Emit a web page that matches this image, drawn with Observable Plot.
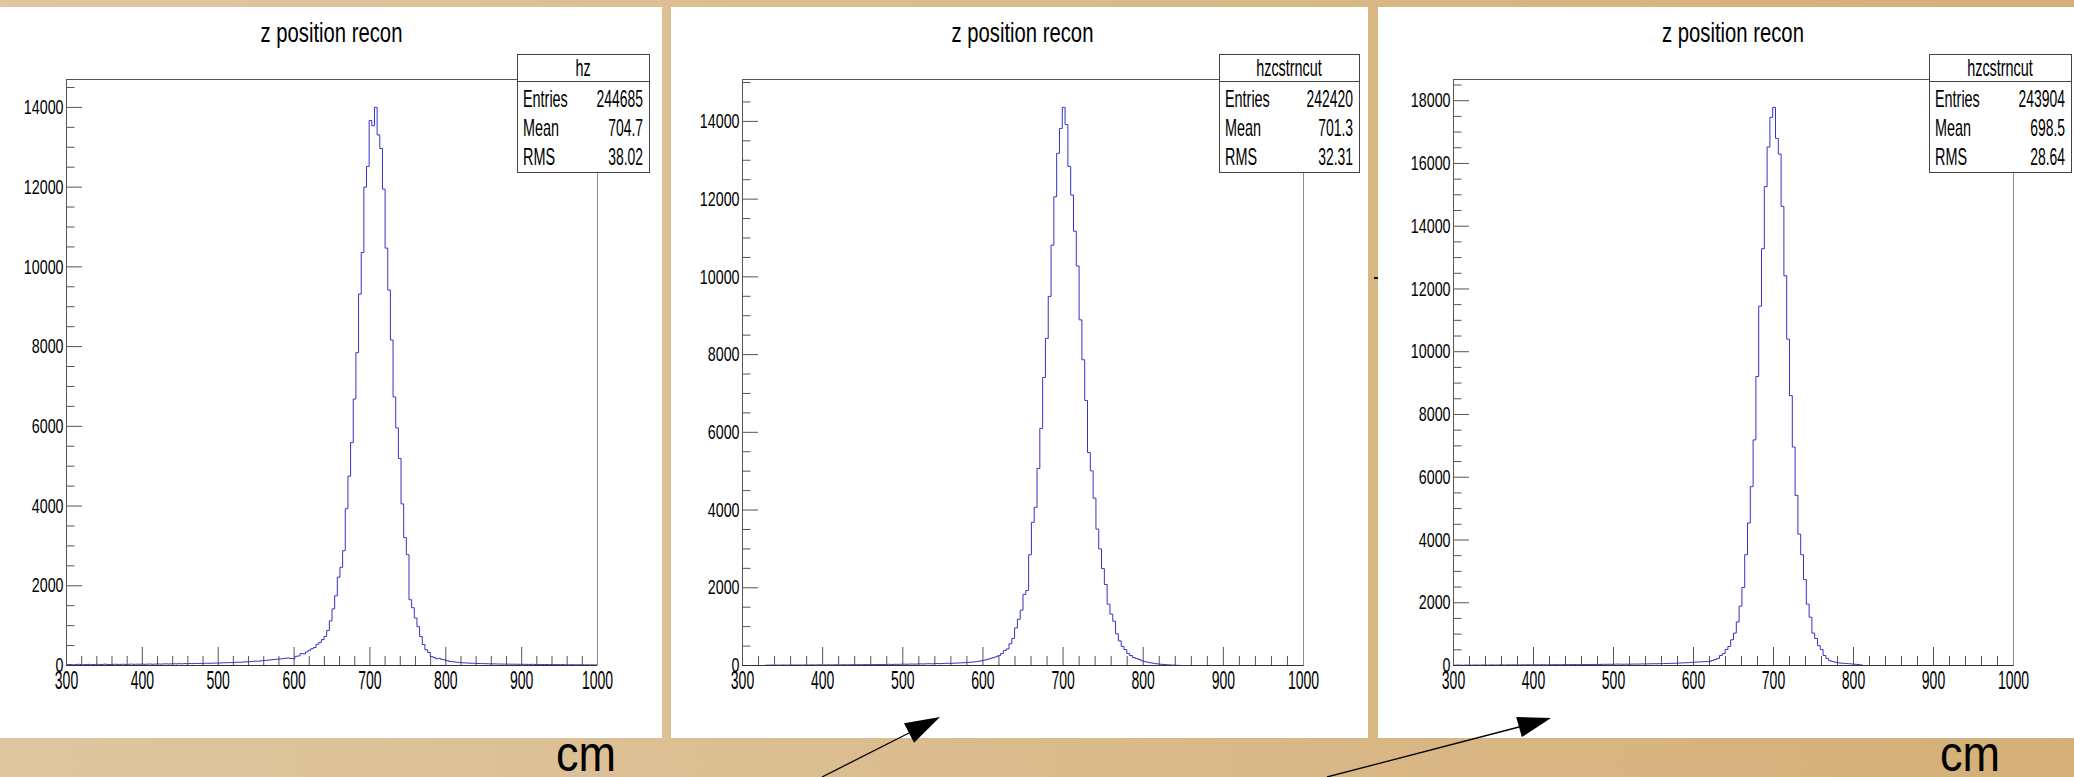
<!DOCTYPE html>
<html>
<head>
<meta charset="utf-8">
<script src="https://cdn.jsdelivr.net/npm/d3@7"></script>
<script src="https://cdn.jsdelivr.net/npm/@observablehq/plot@0.6"></script>
<style>
  html, body { margin: 0; padding: 0; }
  body {
    width: 2074px; height: 777px; overflow: hidden; position: relative;
    background: linear-gradient(to right, #dfc6a0, #d5b078);
    font-family: "Liberation Sans", Arial, sans-serif;
  }
  .panel { position: absolute; top: 7px; height: 731px; background: #fff; }
  .panel svg { display: block; }
  #overlay { position: absolute; left: 0; top: 0; pointer-events: none; }
</style>
</head>
<body>
<div id="p1" class="panel" style="left:0px;width:662px"></div>
<div id="p2" class="panel" style="left:671px;width:697px"></div>
<div id="p3" class="panel" style="left:1378px;width:696px"></div>
<script>
// Histogram binning: 200 bins of 3.5 cm from 300 to 1000 cm
const binStart = 300;
const binWidth = 3.5;

// Reconstructed z position, no cut
const hz = [
  20, 25, 18, 22, 30, 24, 19, 26, 28, 21,
  25, 30, 22, 27, 33, 26, 24, 29, 31, 27,
  28, 32, 26, 30, 35, 29, 33, 31, 36, 30,
  34, 38, 32, 36, 40, 35, 39, 42, 37, 41,
  44, 40, 46, 43, 48, 45, 50, 47, 52, 49,
  54, 51, 57, 55, 60, 58, 63, 61, 66, 70,
  68, 74, 72, 78, 83, 80, 88, 92, 90, 98,
  105, 110, 108, 118, 125, 130, 138, 145, 152, 160,
  165, 172, 180, 190, 175, 170, 230, 240, 300, 290,
  340, 380, 420, 450, 530, 580, 650, 730, 880, 1120,
  1420, 1750, 2215, 2463, 2880, 3933, 4748, 5592, 6685, 7847,
  9317, 10360, 12000, 12520, 13670, 13540, 14000, 13310, 12970, 11950,
  10470, 9417, 8165, 6735, 5960, 5195, 4053, 3208, 2781, 1649,
  1450, 1192, 973, 725, 526, 397, 328, 228, 200, 170,
  180, 150, 140, 120, 100, 95, 85, 80, 72, 68,
  64, 60, 57, 55, 52, 50, 48, 46, 44, 42,
  41, 40, 38, 37, 36, 35, 34, 33, 32, 31,
  30, 29, 30, 28, 27, 29, 26, 25, 27, 24,
  25, 23, 24, 22, 23, 21, 22, 20, 21, 19,
  20, 18, 19, 17, 18, 16, 17, 15, 16, 14
];

// Reconstructed z position after the first cut
const hzcstrncutA = [
  0, 0, 0, 0, 0, 0, 0, 0, 8, 10,
  12, 9, 11, 10, 13, 12, 11, 14, 12, 13,
  14, 12, 15, 13, 16, 14, 15, 17, 13, 16,
  18, 15, 17, 19, 16, 18, 20, 17, 19, 21,
  20, 22, 19, 23, 21, 24, 22, 25, 27, 24,
  26, 28, 30, 27, 31, 29, 33, 35, 32, 36,
  38, 35, 40, 42, 39, 44, 46, 43, 48, 50,
  47, 52, 55, 58, 54, 60, 63, 66, 70, 74,
  80, 86, 92, 100, 110, 125, 140, 160, 184, 200,
  224, 254, 305, 386, 427, 560, 693, 966, 1190, 1423,
  1830, 1930, 2850, 3685, 4071, 5070, 6100, 7412, 8416, 9497,
  10816, 12060, 13179, 13819, 14360, 13918, 12842, 12105, 11174, 10280,
  8893, 7866, 6820, 5480, 5008, 4305, 3510, 3000, 2493, 2085,
  1578, 1323, 1140, 815, 633, 490, 410, 308, 257, 206,
  180, 155, 120, 100, 85, 70, 58, 46, 38, 30,
  25, 18, 14, 10, 7, 4, 0, 0, 0, 0,
  0, 0, 0, 0, 0, 0, 0, 0, 0, 0,
  0, 0, 0, 0, 0, 0, 0, 0, 0, 0,
  0, 0, 0, 0, 0, 0, 0, 0, 0, 0,
  0, 0, 0, 0, 0, 0, 0, 0, 0, 0
];

// Reconstructed z position after the second cut
const hzcstrncutB = [
  10, 14, 12, 8, 15, 13, 11, 16, 14, 12,
  17, 15, 13, 18, 16, 14, 19, 17, 15, 20,
  18, 21, 19, 17, 22, 20, 23, 21, 19, 24,
  22, 25, 23, 21, 26, 24, 27, 25, 23, 28,
  26, 29, 27, 30, 28, 31, 29, 33, 31, 34,
  32, 36, 34, 38, 36, 40, 38, 42, 45, 43,
  40, 42, 41, 44, 46, 45, 48, 50, 49, 52,
  54, 56, 55, 58, 60, 62, 65, 68, 70, 74,
  78, 82, 86, 90, 95, 100, 106, 112, 118, 122,
  125, 128, 160, 191, 226, 319, 383, 510, 606, 820,
  1033, 1388, 1892, 2488, 3531, 4542, 5700, 7190, 9209, 11451,
  13282, 15263, 16523, 17470, 17786, 16800, 16300, 14630, 12420, 10400,
  8600, 6963, 5422, 4188, 3531, 2737, 1955, 1540, 1033, 860,
  632, 510, 319, 226, 153, 128, 102, 85, 75, 70,
  62, 55, 48, 40, 32, 20, 0, 0, 0, 0,
  0, 0, 0, 0, 0, 0, 0, 0, 0, 0,
  0, 0, 0, 0, 0, 0, 0, 0, 0, 0,
  0, 0, 0, 0, 0, 0, 0, 0, 0, 0,
  0, 0, 0, 0, 0, 0, 0, 0, 0, 0,
  0, 0, 0, 0, 0, 0, 0, 0, 0, 0
];

// Axis tick values and texts
const xMajorTicks = [300, 400, 500, 600, 700, 800, 900, 1000];
const titleText = "z position recon";
const unitText = "cm";

// Statistics box contents
const histNames = ["hz", "hzcstrncut", "hzcstrncut"];
const statLabels = ["Entries", "Mean", "RMS"];
const statEntries = ["244685", "242420", "243904"];
const statMeans = ["704.7", "701.3", "698.5"];
const statRms = ["38.02", "32.31", "28.64"];

const FONT = '"Liberation Sans", Arial, Helvetica, sans-serif';
const PANEL_H = 731, MT = 72, MB = 73;

const panels = [
  {el: "p1", counts: hz, left: 0, width: 662, ml: 66, mr: 65, box: [517, 649]},
  {el: "p2", counts: hzcstrncutA, left: 671, width: 697, ml: 71, mr: 65, box: [1219, 1359]},
  {el: "p3", counts: hzcstrncutB, left: 1378, width: 696, ml: 75, mr: 61, box: [1929, 2071]}
];

function squash(svg, selector, sx) {
  svg.querySelectorAll(selector).forEach((t) => {
    const tr = t.getAttribute("transform") || "";
    t.setAttribute("transform", `${tr} scale(${sx},1)`);
  });
}

function drawHistogram(p) {
  const n = p.counts.length;
  const steps = p.counts.map((c, i) => ({z: binStart + i * binWidth, n: c}));
  steps.push({z: binStart + n * binWidth, n: p.counts[n - 1]});
  const xLo = binStart, xHi = binStart + n * binWidth;
  const yMax = 1.05 * d3.max(p.counts);
  const fw = p.width - p.ml - p.mr, fh = PANEL_H - MT - MB;
  const ux = (xHi - xLo) / fw, uy = yMax / fh;  // data units per pixel
  const xMinor = d3.range(xLo, xHi + 1, 20).filter((v) => v % 100 !== 0);
  const yMajor = d3.range(0, yMax, 2000);
  const yMinor = d3.range(0, yMax, 500).filter((v) => v % 2000 !== 0);
  const tick = "#555";

  const svg = Plot.plot({
    width: p.width,
    height: PANEL_H,
    marginLeft: p.ml,
    marginRight: p.mr,
    marginTop: MT,
    marginBottom: MB,
    style: {fontFamily: FONT, background: "transparent", color: "#000", overflow: "visible"},
    x: {domain: [xLo, xHi]},
    y: {domain: [0, yMax]},
    marks: [
      // inward ticks on the x axis
      Plot.ruleX(xMajorTicks, {y1: 0, y2: 18 * uy, stroke: tick}),
      Plot.ruleX(xMinor, {y1: 0, y2: 9 * uy, stroke: tick}),
      // inward ticks on the y axis
      Plot.ruleY(yMajor, {x1: xLo, x2: xLo + 16 * ux, stroke: tick}),
      Plot.ruleY(yMinor, {x1: xLo, x2: xLo + 8.5 * ux, stroke: tick}),
      // histogram outline
      Plot.line(steps, {x: "z", y: "n", curve: "step-after", stroke: "#3434c8", strokeWidth: 1}),
      // frame
      Plot.ruleY([yMax], {stroke: "#555"}),
      Plot.ruleX([xHi], {stroke: "#8a8a8a"}),
      Plot.ruleX([xLo], {stroke: "#555"}),
      Plot.ruleY([0], {stroke: "#333"}),
      Plot.axisX(xMajorTicks, {tickSize: 0, tickPadding: 6, fontSize: 25, label: null, tickFormat: "d"}),
      Plot.axisY(yMajor, {tickSize: 0, tickPadding: 3, fontSize: 21, label: null, tickFormat: "d"})
    ]
  });
  squash(svg, 'g[aria-label="x-axis tick label"] text', 0.56);
  squash(svg, 'g[aria-label="y-axis tick label"] text', 0.68);
  document.getElementById(p.el).appendChild(svg);
  return {frameCenter: p.left + p.ml + fw / 2, frameRight: p.left + p.width - p.mr};
}

const frames = panels.map(drawHistogram);

// Titles, statistics boxes, units and arrows drawn on top
const ov = d3.create("svg")
  .attr("id", "overlay")
  .attr("width", 2074)
  .attr("height", 777)
  .attr("font-family", FONT);

frames.forEach((f, i) => {
  ov.append("text")
    .attr("x", f.frameCenter).attr("y", 42)
    .attr("text-anchor", "middle")
    .attr("font-size", 27)
    .attr("transform", `translate(${f.frameCenter},0) scale(0.75,1) translate(${-f.frameCenter},0)`)
    .text(titleText);

  const [bx1, bx2] = panels[i].box;
  const top = 54, div = 81, bottom = 172;
  const g = ov.append("g");
  g.append("rect")
    .attr("x", bx1 + 0.5).attr("y", top + 0.5)
    .attr("width", bx2 - bx1).attr("height", bottom - top)
    .attr("fill", "#fff").attr("stroke", "#444");
  g.append("line")
    .attr("x1", bx1).attr("x2", bx2 + 1)
    .attr("y1", div + 0.5).attr("y2", div + 0.5)
    .attr("stroke", "#444");
  const cx = (bx1 + bx2) / 2;
  g.append("text")
    .attr("x", cx).attr("y", 76).attr("text-anchor", "middle").attr("font-size", 24)
    .attr("transform", `translate(${cx},0) scale(0.6,1) translate(${-cx},0)`)
    .text(histNames[i]);
  const vals = [statEntries[i], statMeans[i], statRms[i]];
  const baselines = [107, 136, 165];
  statLabels.forEach((lab, r) => {
    const lx = bx1 + 6, rx = bx2 - 6;
    g.append("text")
      .attr("x", lx).attr("y", baselines[r]).attr("font-size", 24)
      .attr("transform", `translate(${lx},0) scale(0.6,1) translate(${-lx},0)`)
      .text(lab);
    g.append("text")
      .attr("x", rx).attr("y", baselines[r]).attr("font-size", 24).attr("text-anchor", "end")
      .attr("transform", `translate(${rx},0) scale(0.58,1) translate(${-rx},0)`)
      .text(vals[r]);
  });
});

// unit labels on the slide strip
[556, 1940].forEach((x) => {
  ov.append("text")
    .attr("x", x).attr("y", 771).attr("font-size", 50)
    .attr("transform", `translate(${x},0) scale(0.9,1) translate(${-x},0)`)
    .text(unitText);
});

// pointer arrows
const arrows = [
  {from: [822, 777], base: [909, 733], tip: [940, 717], half: 11},
  {from: [1327, 777], base: [1519, 727], tip: [1551, 718], half: 10.5}
];
arrows.forEach((a) => {
  ov.append("line")
    .attr("x1", a.from[0]).attr("y1", a.from[1])
    .attr("x2", a.base[0]).attr("y2", a.base[1])
    .attr("stroke", "#000").attr("stroke-width", 1.3);
  const dx = a.tip[0] - a.base[0], dy = a.tip[1] - a.base[1];
  const len = Math.hypot(dx, dy);
  const nx = -dy / len * a.half, ny = dx / len * a.half;
  ov.append("path")
    .attr("d", `M${a.tip[0]},${a.tip[1]}L${a.base[0] + nx},${a.base[1] + ny}L${a.base[0] - nx},${a.base[1] - ny}Z`)
    .attr("fill", "#000");
});

// small stray mark between the second and third pads
ov.append("rect").attr("x", 1374).attr("y", 277).attr("width", 4).attr("height", 2).attr("fill", "#111");

document.body.appendChild(ov.node());
</script>
</body>
</html>
